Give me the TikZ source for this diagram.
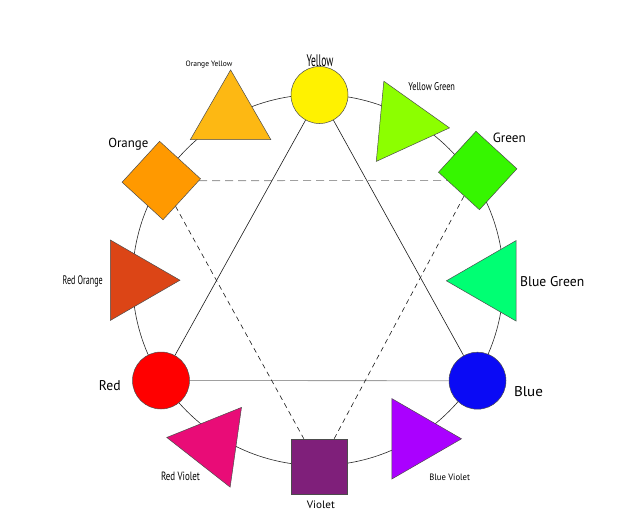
\documentclass[tikz,border=0pt]{standalone}
\usepackage{fontspec}
\setmainfont{PT Sans}
\usepackage{graphicx}
\usetikzlibrary{shapes.geometric}
\pgfdeclarelayer{background}
\pgfsetlayers{background,main}
\definecolor{cYellow}{RGB}{255,242,0}
\definecolor{cOrangeYellow}{RGB}{253,184,19}
\definecolor{cYellowGreen}{RGB}{140,255,0}
\definecolor{cGreen}{RGB}{54,246,0}
\definecolor{cBlueGreen}{RGB}{0,255,115}
\definecolor{cBlue}{RGB}{10,10,245}
\definecolor{cBlueViolet}{RGB}{170,0,255}
\definecolor{cViolet}{RGB}{127,31,122}
\definecolor{cRedViolet}{RGB}{233,12,119}
\definecolor{cRed}{RGB}{255,0,0}
\definecolor{cRedOrange}{RGB}{220,69,22}
\definecolor{cOrange}{RGB}{255,153,0}
\definecolor{cGrayLine}{RGB}{160,160,160}
\newcommand{\clab}[3]{\resizebox{#1pt}{#2pt}{#3}}
\begin{document}
\begin{tikzpicture}[x=1pt,y=-1pt,
  shp/.style={draw=black!70, line width=0.5pt, inner sep=0pt},
  disc/.style={shp, circle, minimum size=57pt},
  sq/.style={shp, rectangle, minimum size=55.5pt},
  tri/.style={shp, regular polygon, regular polygon sides=3, minimum size=93pt},
  lab/.style={inner sep=0pt, anchor=base, text=black},
  solidlink/.style={draw=black!90, line width=0.6pt},
  graylink/.style={draw=cGrayLine, line width=0.8pt},
  graydash/.style={draw=cGrayLine, line width=0.9pt, dash pattern=on 8pt off 5pt},
  blackdash/.style={draw=black!90, line width=0.6pt, dash pattern=on 5pt off 4pt},
  wheelstyle/.style={draw=black!85, line width=0.6pt, circle, minimum size=371pt, inner sep=0pt}
]
\useasboundingbox (0,0) rectangle (640,512);
\node[wheelstyle] (wheel) at (318,280) {};

% triangles
\node[tri, fill=cOrangeYellow] (oy) at (230.6,116.4) {};
\node[tri, fill=cYellowGreen, rotate=-95.4] (yg) at (403.2,123.5) {};
\node[tri, fill=cBlueGreen, rotate=90] (bg) at (492.9,280.8) {};
\node[tri, fill=cRedOrange, rotate=-90] (ro) at (133.5,280.2) {};
\node[tri, fill=cRedViolet, rotate=-38.1] (rv) at (212.8,444) {};
\node[tri, fill=cBlueViolet, rotate=-90] (bv) at (415,438.8) {};

% primaries
\node[disc, fill=cYellow] (yellow) at (319.5,95) {};
\node[disc, fill=cRed] (red) at (161,380.5) {};
\node[disc, fill=cBlue] (blue) at (477.5,380.7) {};

% secondaries
\node[sq, fill=cOrange, rotate=47.5] (orange) at (161.3,180.5) {};
\node[sq, fill=cGreen, rotate=47.5] (green) at (477.7,170.5) {};
\node[sq, fill=cViolet] (violet) at (319.2,466.7) {};

% connectors
\draw[solidlink] (yellow) -- (red);
\draw[solidlink] (yellow) -- (blue);
\draw[graylink] (red) -- (blue);
\begin{pgfonlayer}{background}
\draw[graydash] (orange) -- (orange -| green);
\end{pgfonlayer}
\draw[blackdash] (orange) -- (violet);
\draw[blackdash] (violet) -- (green);

% labels
\node[lab] (lyellow) at (320,66.7) {\clab{27}{11.7}{Yellow}};
\node[lab] (loy) at (209,66) {\clab{46.7}{5.5}{Orange Yellow}};
\node[lab] (lyg) at (431.7,90.7) {\clab{46.7}{8}{Yellow Green}};
\node[lab] (lorange) at (128.3,147.3) {\clab{40}{9.3}{Orange}};
\node[lab] (lgreen) at (509.3,142) {\clab{33}{9.5}{Green}};
\node[lab] (lro) at (82.7,284.3) {\clab{40}{8.8}{Red Orange}};
\node[lab] (lbg) at (552.2,286.7) {\clab{64}{10}{Blue Green}};
\node[lab] (lred) at (109.8,390) {\clab{21.7}{10}{Red}};
\node[lab] (lblue) at (528.5,396.7) {\clab{29}{10}{Blue}};
\node[lab] (lrv) at (180.5,480.7) {\clab{39}{8.5}{Red Violet}};
\node[lab] (lbv) at (449.7,480.7) {\clab{40.7}{6.5}{Blue Violet}};
\node[lab] (lviolet) at (320.8,508.8) {\clab{28}{7.6}{Violet}};
\end{tikzpicture}
\end{document}
